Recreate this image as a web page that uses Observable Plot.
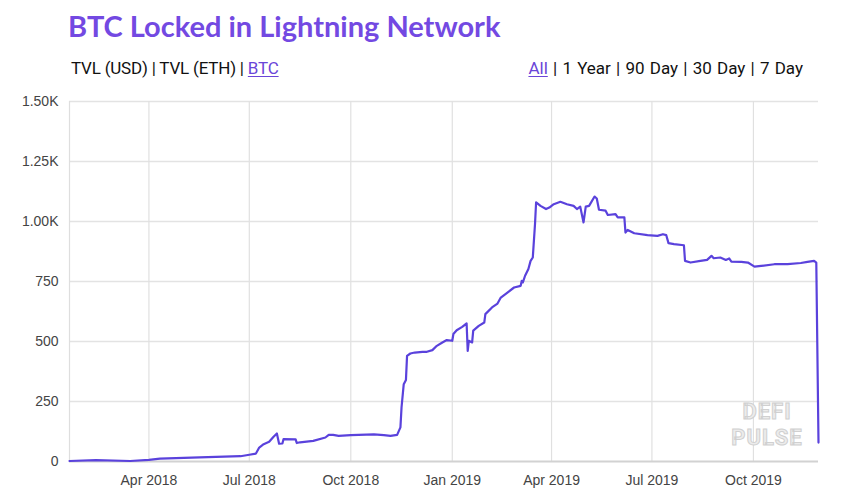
<!DOCTYPE html>
<html>
<head>
<meta charset="utf-8">
<script src="https://cdn.jsdelivr.net/npm/d3@7"></script>
<script src="https://cdn.jsdelivr.net/npm/@observablehq/plot@0.6"></script>
<style>
  html, body { margin: 0; padding: 0; background: #fff; width: 848px; height: 503px; overflow: hidden; position: relative; }
  #title { position: absolute; left: 68px; top: 8px; font: 700 29px/36px "Lato", "Open Sans", sans-serif; color: #7349e2; white-space: nowrap; }
  .sub { position: absolute; top: 57px; font: 400 17px/22px "Roboto", "Lato", sans-serif; color: #111; white-space: nowrap; }
  .sub u { color: #6a45d8; text-decoration: underline; text-underline-offset: 2px; }
  #left { left: 71px; letter-spacing: -0.2px; }
  #right { right: 45px; word-spacing: 1px; }
  #chart { position: absolute; left: 0; top: 85px; }
  #wm { position: absolute; left: 722px; top: 399px; width: 90px; text-align: center; font: 700 22px/26px "Roboto", sans-serif; color: #ececec; -webkit-text-stroke: 1px #d0d0d0; letter-spacing: 1px; }
  #wm div { height: 26px; }
</style>
</head>
<body>
<div id="title">BTC Locked in Lightning Network</div>
<div class="sub" id="left">TVL (USD) | TVL (ETH) | <u>BTC</u></div>
<div class="sub" id="right"><u>All</u> | 1 Year | 90 Day | 30 Day | 7 Day</div>
<div id="chart"></div>
<div id="wm"><div>DEFI</div><div>PULSE</div></div>
<script>
const dates = [
  "2018-01-19","2018-02-12","2018-03-15","2018-04-01","2018-04-11","2018-05-17","2018-06-23",
  "2018-07-01","2018-07-07","2018-07-10","2018-07-14","2018-07-19","2018-07-23","2018-07-26",
  "2018-07-28","2018-07-31","2018-08-01","2018-08-12","2018-08-13","2018-08-16","2018-08-28",
  "2018-09-08","2018-09-11","2018-09-15","2018-09-20","2018-10-01","2018-10-22","2018-10-31",
  "2018-11-06","2018-11-12","2018-11-15","2018-11-16","2018-11-18","2018-11-20","2018-11-21",
  "2018-11-24","2018-11-28","2018-12-05","2018-12-09","2018-12-14","2018-12-18","2018-12-23",
  "2018-12-27","2019-01-01","2019-01-02","2019-01-05","2019-01-10","2019-01-14","2019-01-15",
  "2019-01-16","2019-01-19","2019-01-20","2019-01-25","2019-01-30","2019-01-31","2019-02-06",
  "2019-02-11","2019-02-14","2019-02-20","2019-02-26","2019-03-04","2019-03-05","2019-03-06",
  "2019-03-08","2019-03-11","2019-03-13","2019-03-15","2019-03-17","2019-03-18","2019-03-22",
  "2019-03-27","2019-03-30","2019-04-03","2019-04-09","2019-04-15","2019-04-21","2019-04-24",
  "2019-04-27","2019-04-30","2019-05-02","2019-05-05","2019-05-10","2019-05-12","2019-05-14",
  "2019-05-20","2019-05-22","2019-05-29","2019-05-31","2019-06-06","2019-06-07","2019-06-09",
  "2019-06-15","2019-06-27","2019-07-06","2019-07-11","2019-07-14","2019-07-16","2019-07-21",
  "2019-07-30","2019-07-31","2019-08-05","2019-08-14","2019-08-20","2019-08-24","2019-08-26",
  "2019-09-01","2019-09-06","2019-09-09","2019-09-11","2019-09-20","2019-09-26","2019-10-02",
  "2019-10-08","2019-10-20","2019-11-01","2019-11-13","2019-11-19","2019-11-25","2019-11-27",
  "2019-11-29"
];
const btc = [
  2, 6, 2, 7, 12, 17, 22,
  28, 33, 58, 72, 82, 103, 117,
  74, 75, 93, 92, 77, 80, 86,
  100, 111, 111, 107, 110, 113, 110,
  107, 111, 142, 225, 322, 340, 440,
  450, 454, 457, 457, 464, 482, 496,
  506, 503, 531, 547, 561, 575, 461,
  503, 496, 545, 565, 579, 614, 642,
  658, 683, 704, 725, 732, 753, 746,
  774, 802, 836, 850, 989, 1080, 1065,
  1052, 1058, 1072, 1082, 1072, 1065, 1052,
  1062, 996, 1062, 1065, 1104, 1096, 1049,
  1045, 1027, 1031, 1017, 1017, 954, 965,
  951, 943, 940, 947, 943, 910, 906,
  901, 836, 829, 836, 840, 857, 847,
  850, 840, 846, 833, 832, 829, 812,
  815, 822, 822, 827, 832, 836, 829,
  79
];
const xTickDates = ["2018-04-01","2018-07-01","2018-10-01","2019-01-01","2019-04-01","2019-07-01","2019-10-01"];
const yTickValues = [0, 250, 500, 750, 1000, 1250, 1500];

const data = dates.map((d, i) => ({date: new Date(d + "T00:00:00Z"), value: btc[i]}));
const xTicks = xTickDates.map(d => new Date(d + "T00:00:00Z"));
const fmtY = v => v >= 1000 ? (v / 1000).toFixed(2) + "K" : String(v);

const chart = Plot.plot({
  width: 848,
  height: 418,
  marginLeft: 69,
  marginRight: 30,
  marginTop: 16,
  marginBottom: 42,
  style: {fontFamily: "'Liberation Sans', Arial, sans-serif", fontSize: "14px", color: "#444", background: "#fff", overflow: "visible"},
  x: {type: "utc", domain: [data[0].date, data[data.length - 1].date], ticks: xTicks, tickFormat: d3.utcFormat("%b %Y"), tickSize: 0, tickPadding: 14, label: null},
  y: {domain: [0, 1500], ticks: yTickValues, tickFormat: fmtY, tickSize: 0, tickPadding: 11, label: null},
  marks: [
    Plot.ruleY(yTickValues.filter(v => v > 0), {stroke: "#e3e3e3", strokeWidth: 1.5}),
    Plot.ruleX(xTicks, {stroke: "#e0e0e0", strokeWidth: 1.2}),
    Plot.ruleX([data[0].date], {stroke: "#dedede", strokeWidth: 1.2}),
    Plot.ruleY([0], {stroke: "#d2d2d2", strokeWidth: 2}),
    Plot.line(data, {x: "date", y: "value", stroke: "#5a42dc", strokeWidth: 2.2, strokeLinejoin: "round"})
  ]
});
document.getElementById("chart").appendChild(chart);
</script>
</body>
</html>
